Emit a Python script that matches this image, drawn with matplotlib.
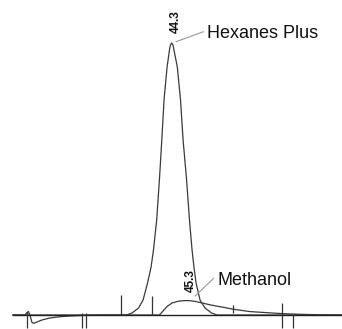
import matplotlib.pyplot as plt

plt.rcParams['font.family'] = ['Liberation Sans', 'DejaVu Sans']

# trace 1: solvent blip + hexanes plus peak (time in min, signal in % of main peak)
t_main = [34.38, 35.13, 35.26, 35.35, 35.44, 35.57, 35.69, 35.88, 36.19, 36.69, 37.32, 37.94, 38.88, 39.82,
          41.48, 41.82, 42.23, 42.51, 42.79, 43.01, 43.16, 43.36, 43.53, 43.68, 43.82, 44.01, 44.16, 44.22,
          44.30, 44.38, 44.44, 44.65, 44.85, 45.01, 45.23, 45.41, 45.57, 45.69, 45.82, 46.07, 46.38, 46.79,
          47.13, 54.94]
s_main = [0, 0, 0.92, 1.29, 0, -2.76, -3.05, -2.57, -1.84, -1.10, -0.63, -0.37, -0.11, 0,
          0, 0.74, 2.57, 5.51, 11.76, 17.65, 23.9, 34.93, 49.63, 64.34, 79.04, 91.18, 97.43, 99.26,
          100, 99.26, 97.43, 91.18, 79.04, 64.34, 49.63, 34.93, 23.9, 17.65, 11.76, 5.51, 2.57, 0.74,
          0, 0]

# trace 2: methanol hump
t_meoh = [34.38, 43.53, 43.76, 44.01, 44.32, 44.69, 45.07, 45.38, 45.76, 46.26, 46.69, 47.13, 47.63,
          48.13, 49.19, 50.26, 51.26, 52.32, 53.57, 54.94]
s_meoh = [0, 0, 1.47, 3.13, 4.41, 5.04, 5.29, 5.29, 5.0, 4.34, 3.75, 3.24, 2.72,
          2.13, 1.25, 0.85, 0.48, 0.26, 0.07, 0]

# integration event marks
mark_t = [35.24, 38.68, 38.94, 41.11, 43.09, 48.15, 51.18, 51.86]
mark_lo = [-4.89, -4.89, -4.89, 0, 0, 0.62, -4.89, -4.89]
mark_hi = [1.1, 0.85, 0.85, 7.35, 7.1, 3.68, 4.52, 0]

peak_times = ['44.3', '45.3']
peak_names = ['Hexanes Plus', 'Methanol']

fig = plt.figure(figsize=(3.42, 3.29), dpi=100)
ax = fig.add_axes([0, 0, 1, 1])

ax.plot(t_main, s_main, color='#3a3a3a', lw=0.9)
ax.plot(t_meoh, s_meoh, color='#3a3a3a', lw=0.9)
ax.plot([t_main[0], t_main[-1]], [0, 0], color='#222222', lw=1.0)
ax.vlines(mark_t, mark_lo, mark_hi, color='#333333', lw=0.9)

# retention time labels
ax.text(44.56, 107.8, peak_times[0], rotation=90, ha='center', va='center',
        fontsize=8.5, fontweight='bold', color='#111111')
ax.text(45.48, 12.5, peak_times[1], rotation=90, ha='center', va='center',
        fontsize=8.5, fontweight='bold', color='#111111')

# component names with leader lines
ax.plot([44.57, 46.28], [100.48, 104.15], color='#999999', lw=0.8)
ax.text(46.51, 101.95, peak_names[0], ha='left', va='baseline', fontsize=13, color='#111111')
ax.plot([45.76, 46.91], [6.99, 13.42], color='#999999', lw=0.8)
ax.text(47.19, 11.03, peak_names[1], ha='left', va='baseline', fontsize=13, color='#111111')

ax.set_xlim(33.57, 54.94)
ax.set_ylim(-5.15, 115.81)
ax.axis('off')

fig.savefig('out.png', dpi=100)
